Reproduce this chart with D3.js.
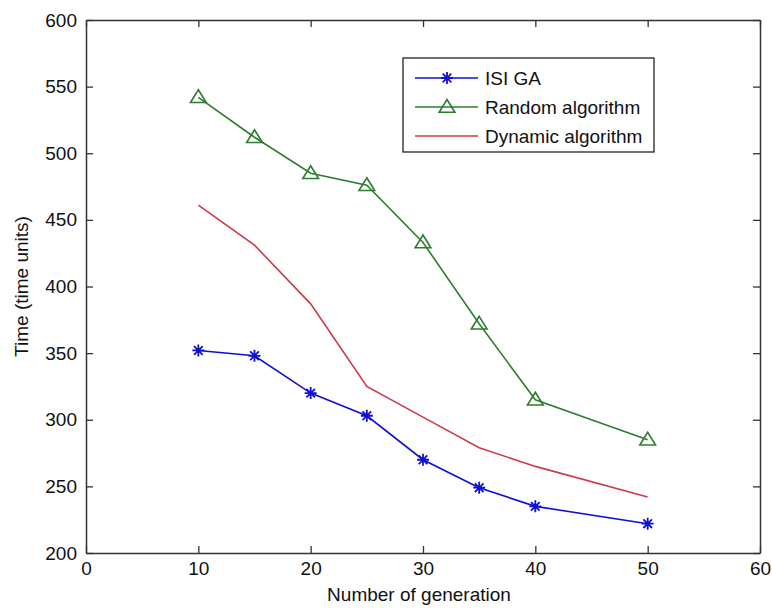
<!DOCTYPE html>
<html>
  <head>
    <meta charset="utf-8">
    <title>Time vs generation</title>
    <style>
      body { margin: 0; background: #fff; }
      text { font-family: "Liberation Sans", Arial, sans-serif; fill: #111; }
    </style>
  </head>
  <body>
    <script src="https://cdn.jsdelivr.net/npm/d3@7/dist/d3.min.js"></script>
    <script type="text/javascript">
      var generations = [10, 15, 20, 25, 30, 35, 40, 50];
      var isiGA   = [352, 348, 320, 303, 270, 249, 235, 222];
      var randomA = [542, 512, 485, 476, 433, 372, 315, 285];
      var dynamicA = [461, 431, 387, 325, 302, 279, 265, 242];
      var xTicks = [0, 10, 20, 30, 40, 50, 60];
      var yTicks = [200, 250, 300, 350, 400, 450, 500, 550, 600];

      var width = 772, height = 609;
      var mLeft = 86, mRight = 760, mTop = 20, mBottom = 553;

      var svg = d3.select("body").append("svg")
                  .attr("width", width)
                  .attr("height", height);

      var x = d3.scaleLinear().domain([0, 60]).range([mLeft, mRight]);
      var y = d3.scaleLinear().domain([200, 600]).range([mBottom, mTop]);

      var axisColor = "#333";
      var fs = "19px";

      // axes (ticks pointing inward, like matlab)
      var gx = svg.append("g").attr("transform", "translate(0," + mBottom + ")")
        .call(d3.axisBottom(x).tickValues(xTicks).tickSizeInner(-7).tickSizeOuter(0).tickPadding(9));
      var gxt = svg.append("g").attr("transform", "translate(0," + mTop + ")")
        .call(d3.axisTop(x).tickValues(xTicks).tickSizeInner(-7).tickSizeOuter(0).tickFormat(""));
      var gy = svg.append("g").attr("transform", "translate(" + mLeft + ",0)")
        .call(d3.axisLeft(y).tickValues(yTicks).tickSizeInner(-7).tickSizeOuter(0).tickPadding(9));
      var gyr = svg.append("g").attr("transform", "translate(" + mRight + ",0)")
        .call(d3.axisRight(y).tickValues(yTicks).tickSizeInner(-7).tickSizeOuter(0).tickFormat(""));

      [gx, gxt, gy, gyr].forEach(function(g) {
        g.selectAll("path").attr("stroke", axisColor).attr("stroke-width", 1.5);
        g.selectAll("line").attr("stroke", axisColor).attr("stroke-width", 1.3);
        g.selectAll("text").attr("font-size", fs).attr("fill", "#111")
          .attr("font-family", "'Liberation Sans', Arial, sans-serif");
      });

      // axis labels
      svg.append("text")
        .attr("x", (mLeft + mRight) / 2 - 4).attr("y", 601)
        .attr("text-anchor", "middle").attr("font-size", fs)
        .text("Number of generation");
      svg.append("text")
        .attr("transform", "translate(28," + ((mTop + mBottom) / 2) + ") rotate(-90)")
        .attr("text-anchor", "middle").attr("font-size", fs)
        .text("Time (time units)");

      var blue = "#1010d0", green = "#2e7d2e", red = "#cc3b4c";

      var line = d3.line()
        .x(function(d, i) { return x(generations[i]); })
        .y(function(d) { return y(d); });

      function drawLine(data, color) {
        svg.append("path").datum(data)
          .attr("d", line)
          .attr("fill", "none")
          .attr("stroke", color)
          .attr("stroke-width", 1.6);
      }

      function star(g, cx, cy, r, color) {
        var d = "M" + (cx - r) + "," + cy + "L" + (cx + r) + "," + cy +
                "M" + cx + "," + (cy - r) + "L" + cx + "," + (cy + r) +
                "M" + (cx - r * 0.72) + "," + (cy - r * 0.72) + "L" + (cx + r * 0.72) + "," + (cy + r * 0.72) +
                "M" + (cx - r * 0.72) + "," + (cy + r * 0.72) + "L" + (cx + r * 0.72) + "," + (cy - r * 0.72);
        g.append("path").attr("d", d).attr("stroke", color).attr("stroke-width", 1.8).attr("fill", "none");
      }

      function tri(g, cx, cy, r, color) {
        var d = "M" + cx + "," + (cy - r) +
                "L" + (cx + r * 1.05) + "," + (cy + r * 0.7) +
                "L" + (cx - r * 1.05) + "," + (cy + r * 0.7) + "Z";
        g.append("path").attr("d", d).attr("stroke", color).attr("stroke-width", 1.6).attr("fill", "none");
      }

      drawLine(randomA, green);
      drawLine(dynamicA, red);
      drawLine(isiGA, blue);

      var marks = svg.append("g");
      randomA.forEach(function(v, i) { tri(marks, x(generations[i]), y(v), 7.5, green); });
      isiGA.forEach(function(v, i) { star(marks, x(generations[i]), y(v), 6, blue); });

      // legend
      var lg = svg.append("g");
      lg.append("rect").attr("x", 403).attr("y", 58).attr("width", 251).attr("height", 94)
        .attr("fill", "#fff").attr("stroke", "#222").attr("stroke-width", 1.3);
      var series = [
        { name: "ISI GA", color: blue, mark: "star" },
        { name: "Random algorithm", color: green, mark: "tri" },
        { name: "Dynamic algorithm", color: red, mark: "none" }
      ];
      var rowY = d3.scalePoint().domain(d3.range(series.length)).range([78, 136]);
      series.forEach(function(s, i) {
        var yy = rowY(i);
        lg.append("line").attr("x1", 415).attr("x2", 478).attr("y1", yy).attr("y2", yy)
          .attr("stroke", s.color).attr("stroke-width", 1.6);
        if (s.mark === "star") star(lg, 447, yy, 6, s.color);
        if (s.mark === "tri") tri(lg, 447, yy, 7.5, s.color);
        lg.append("text").attr("x", 485).attr("y", yy + 7).attr("font-size", fs).text(s.name);
      });
    </script>
  </body>
</html>
